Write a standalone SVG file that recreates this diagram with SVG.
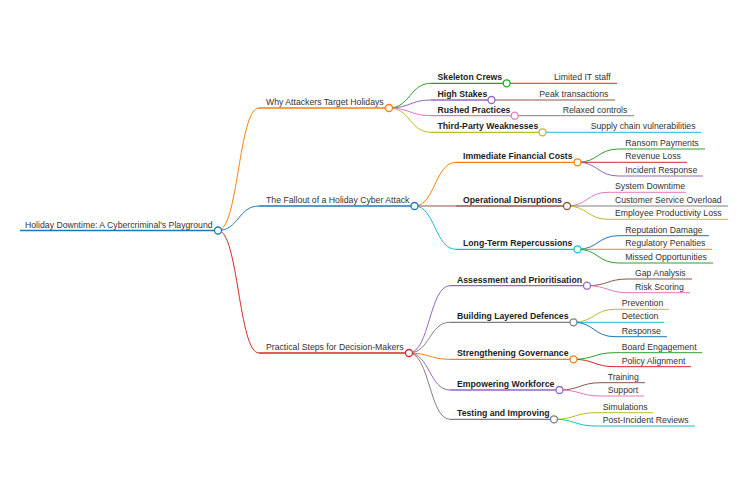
<svg xmlns="http://www.w3.org/2000/svg" width="740" height="491" viewBox="0 0 740 491">
<style>
text{font-family:"Liberation Sans",Arial,sans-serif;font-size:8.7px;fill:#333}
.b{font-weight:bold;fill:#222}
.l{fill:none;stroke-width:1}
.l0{fill:none;stroke-width:1.5}
.l1{fill:none;stroke-width:1.3}
.c{fill:#fff;stroke-width:1.3}
.k{fill:none;stroke-width:1}
</style>
<rect width="740" height="491" fill="#fff"/>
<g id="connectors">
<path class="k" stroke="#ff7f0e" stroke-width="1.4" d="M218,230.5 C238.5,230.5 238.5,108 259,108"/>
<path class="k" stroke="#1f77b4" stroke-width="1.4" d="M218,230.5 C238.5,230.5 238.5,206 259,206"/>
<path class="k" stroke="#d62728" stroke-width="1.4" d="M218,230.5 C238.5,230.5 238.5,353 259,353"/>
<path class="k" stroke="#2ca02c" d="M389,108 C410,108 410,83.3 431,83.3"/>
<path class="k" stroke="#9467bd" d="M389,108 C410,108 410,100 431,100"/>
<path class="k" stroke="#e377c2" d="M389,108 C410,108 410,115.7 431,115.7"/>
<path class="k" stroke="#bcbd22" d="M389,108 C410,108 410,132.3 431,132.3"/>
<path class="k" stroke="#d62728" d="M506.7,83.3 H547.5"/>
<path class="k" stroke="#8c564b" d="M491.5,100 H532.5"/>
<path class="k" stroke="#7f7f7f" d="M514.7,115.7 H556"/>
<path class="k" stroke="#17becf" d="M542.5,132.3 H584"/>
<path class="k" stroke="#ff7f0e" d="M414.5,206 C435,206 435,162.3 456,162.3"/>
<path class="k" stroke="#8c564b" d="M414.5,206 H456"/>
<path class="k" stroke="#17becf" d="M414.5,206 C435,206 435,249.3 456,249.3"/>
<path class="k" stroke="#2ca02c" d="M577.5,162.3 C598,162.3 598,149 618.5,149"/>
<path class="k" stroke="#d62728" d="M577.5,162.3 H618.5"/>
<path class="k" stroke="#9467bd" d="M577.5,162.3 C598,162.3 598,176 618.5,176"/>
<path class="k" stroke="#e377c2" d="M567,206 C587.5,206 587.5,192.3 608,192.3"/>
<path class="k" stroke="#7f7f7f" d="M567,206 H608"/>
<path class="k" stroke="#bcbd22" d="M567,206 C587.5,206 587.5,219.3 608,219.3"/>
<path class="k" stroke="#1f77b4" d="M577.5,249.3 C598,249.3 598,235.7 618.5,235.7"/>
<path class="k" stroke="#ff7f0e" d="M577.5,249.3 H618.5"/>
<path class="k" stroke="#2ca02c" d="M577.5,249.3 C598,249.3 598,263 618.5,263"/>
<path class="k" stroke="#9467bd" d="M409,353 C429.5,353 429.5,285.7 450,285.7"/>
<path class="k" stroke="#7f7f7f" d="M409,353 C429.5,353 429.5,322.3 450,322.3"/>
<path class="k" stroke="#ff7f0e" d="M409,353 C429.5,353 429.5,359.3 450,359.3"/>
<path class="k" stroke="#9467bd" d="M409,353 C429.5,353 429.5,390 450,390"/>
<path class="k" stroke="#7f7f7f" d="M409,353 C429.5,353 429.5,419.3 450,419.3"/>
<path class="k" stroke="#8c564b" d="M587,285.7 C607.5,285.7 607.5,279 628,279"/>
<path class="k" stroke="#e377c2" d="M587,285.7 C607.5,285.7 607.5,292.7 628,292.7"/>
<path class="k" stroke="#bcbd22" d="M573.5,322.3 C594,322.3 594,309.3 615,309.3"/>
<path class="k" stroke="#17becf" d="M573.5,322.3 H615"/>
<path class="k" stroke="#1f77b4" d="M573.5,322.3 C594,322.3 594,336.7 615,336.7"/>
<path class="k" stroke="#2ca02c" d="M573.5,359.3 C594,359.3 594,352.7 615,352.7"/>
<path class="k" stroke="#d62728" d="M573.5,359.3 C594,359.3 594,366.7 615,366.7"/>
<path class="k" stroke="#8c564b" d="M559.5,390 C580,390 580,382.7 601,382.7"/>
<path class="k" stroke="#e377c2" d="M559.5,390 C580,390 580,396 601,396"/>
<path class="k" stroke="#bcbd22" d="M554,419.3 C575,419.3 575,412.7 596,412.7"/>
<path class="k" stroke="#17becf" d="M554,419.3 C575,419.3 575,426 596,426"/>
</g>
<g id="root"><path class="l0" stroke="#1f77b4" d="M20,230.5 H218"/><text x="25" y="227.5">Holiday Downtime: A Cybercriminal's Playground</text><circle class="c" stroke="#1f77b4" cx="218" cy="230.5" r="3.5"/></g>
<g id="why"><path class="l0" stroke="#ff7f0e" d="M259,108 H389"/><text x="266" y="105">Why Attackers Target Holidays</text><circle class="c" stroke="#ff7f0e" cx="389" cy="108" r="3.5"/></g>
<g id="fallout"><path class="l0" stroke="#1f77b4" d="M259,206 H414.5"/><text x="266" y="203">The Fallout of a Holiday Cyber Attack</text><circle class="c" stroke="#1f77b4" cx="414.5" cy="206" r="3.5"/></g>
<g id="practical"><path class="l0" stroke="#d62728" d="M259,353 H409"/><text x="266" y="350">Practical Steps for Decision-Makers</text><circle class="c" stroke="#d62728" cx="409" cy="353" r="3.5"/></g>
<g id="skeleton"><path class="l1" stroke="#2ca02c" d="M431,83.3 H506.7"/><text class="b" x="437.5" y="80.3">Skeleton Crews</text><circle class="c" stroke="#2ca02c" cx="506.7" cy="83.3" r="3.5"/></g>
<g id="highstakes"><path class="l1" stroke="#9467bd" d="M431,100 H491.5"/><text class="b" x="437.5" y="97">High Stakes</text><circle class="c" stroke="#9467bd" cx="491.5" cy="100" r="3.5"/></g>
<g id="rushed"><path class="l1" stroke="#e377c2" d="M431,115.7 H514.7"/><text class="b" x="437.5" y="112.7">Rushed Practices</text><circle class="c" stroke="#e377c2" cx="514.7" cy="115.7" r="3.5"/></g>
<g id="thirdparty"><path class="l1" stroke="#bcbd22" d="M431,132.3 H542.5"/><text class="b" x="437.5" y="129.3">Third-Party Weaknesses</text><circle class="c" stroke="#bcbd22" cx="542.5" cy="132.3" r="3.5"/></g>
<g id="limited"><path class="l" stroke="#d62728" d="M547.5,83.3 H617"/><text x="554" y="80.3">Limited IT staff</text></g>
<g id="peak"><path class="l" stroke="#8c564b" d="M532.5,100 H615"/><text x="539.3" y="97">Peak transactions</text></g>
<g id="relaxed"><path class="l" stroke="#7f7f7f" d="M556,115.7 H634"/><text x="562.7" y="112.7">Relaxed controls</text></g>
<g id="supply"><path class="l" stroke="#17becf" d="M584,132.3 H701"/><text x="590.7" y="129.3">Supply chain vulnerabilities</text></g>
<g id="immediate"><path class="l1" stroke="#ff7f0e" d="M456,162.3 H577.5"/><text class="b" x="463" y="159.3">Immediate Financial Costs</text><circle class="c" stroke="#ff7f0e" cx="577.5" cy="162.3" r="3.5"/></g>
<g id="operational"><path class="l1" stroke="#8c564b" d="M456,206 H567"/><text class="b" x="463" y="203">Operational Disruptions</text><circle class="c" stroke="#8c564b" cx="567" cy="206" r="3.5"/></g>
<g id="longterm"><path class="l1" stroke="#17becf" d="M456,249.3 H577.5"/><text class="b" x="463" y="246.3">Long-Term Repercussions</text><circle class="c" stroke="#17becf" cx="577.5" cy="249.3" r="3.5"/></g>
<g id="ransom"><path class="l" stroke="#2ca02c" d="M618.5,149 H705"/><text x="625.3" y="146">Ransom Payments</text></g>
<g id="revenue"><path class="l" stroke="#d62728" d="M618.5,162.3 H687"/><text x="625.3" y="159.3">Revenue Loss</text></g>
<g id="incident"><path class="l" stroke="#9467bd" d="M618.5,176 H703"/><text x="625.3" y="173">Incident Response</text></g>
<g id="downtime"><path class="l" stroke="#e377c2" d="M608,192.3 H686"/><text x="615" y="189.3">System Downtime</text></g>
<g id="customer"><path class="l" stroke="#7f7f7f" d="M608,206 H728"/><text x="615" y="203">Customer Service Overload</text></g>
<g id="employee"><path class="l" stroke="#bcbd22" d="M608,219.3 H728"/><text x="615" y="216.3">Employee Productivity Loss</text></g>
<g id="reputation"><path class="l" stroke="#1f77b4" d="M618.5,235.7 H709"/><text x="625.3" y="232.7">Reputation Damage</text></g>
<g id="regulatory"><path class="l" stroke="#ff7f0e" d="M618.5,249.3 H712"/><text x="625.3" y="246.3">Regulatory Penalties</text></g>
<g id="missed"><path class="l" stroke="#2ca02c" d="M618.5,263 H713"/><text x="625.3" y="260">Missed Opportunities</text></g>
<g id="assessment"><path class="l1" stroke="#9467bd" d="M450,285.7 H587"/><text class="b" x="457" y="282.7">Assessment and Prioritisation</text><circle class="c" stroke="#9467bd" cx="587" cy="285.7" r="3.5"/></g>
<g id="layered"><path class="l1" stroke="#7f7f7f" d="M450,322.3 H573.5"/><text class="b" x="457" y="319.3">Building Layered Defences</text><circle class="c" stroke="#7f7f7f" cx="573.5" cy="322.3" r="3.5"/></g>
<g id="governance"><path class="l1" stroke="#ff7f0e" d="M450,359.3 H573.5"/><text class="b" x="457" y="356.3">Strengthening Governance</text><circle class="c" stroke="#ff7f0e" cx="573.5" cy="359.3" r="3.5"/></g>
<g id="workforce"><path class="l1" stroke="#9467bd" d="M450,390 H559.5"/><text class="b" x="457" y="387">Empowering Workforce</text><circle class="c" stroke="#9467bd" cx="559.5" cy="390" r="3.5"/></g>
<g id="testing"><path class="l1" stroke="#7f7f7f" d="M450,419.3 H554"/><text class="b" x="457" y="416.3">Testing and Improving</text><circle class="c" stroke="#7f7f7f" cx="554" cy="419.3" r="3.5"/></g>
<g id="gap"><path class="l" stroke="#8c564b" d="M628,279 H692"/><text x="635" y="276">Gap Analysis</text></g>
<g id="risk"><path class="l" stroke="#e377c2" d="M628,292.7 H690"/><text x="635" y="289.7">Risk Scoring</text></g>
<g id="prevention"><path class="l" stroke="#bcbd22" d="M615,309.3 H669"/><text x="621.7" y="306.3">Prevention</text></g>
<g id="detection"><path class="l" stroke="#17becf" d="M615,322.3 H664"/><text x="621.7" y="319.3">Detection</text></g>
<g id="response"><path class="l" stroke="#1f77b4" d="M615,336.7 H667"/><text x="621.7" y="333.7">Response</text></g>
<g id="board"><path class="l" stroke="#2ca02c" d="M615,352.7 H702"/><text x="621.7" y="349.7">Board Engagement</text></g>
<g id="policy"><path class="l" stroke="#d62728" d="M615,366.7 H691"/><text x="621.7" y="363.7">Policy Alignment</text></g>
<g id="training"><path class="l" stroke="#8c564b" d="M601,382.7 H645"/><text x="607.7" y="379.7">Training</text></g>
<g id="support"><path class="l" stroke="#e377c2" d="M601,396 H644"/><text x="607.7" y="393">Support</text></g>
<g id="simulations"><path class="l" stroke="#bcbd22" d="M596,412.7 H653"/><text x="602.7" y="409.7">Simulations</text></g>
<g id="postincident"><path class="l" stroke="#17becf" d="M596,426 H695"/><text x="602.7" y="423">Post-Incident Reviews</text></g>
</svg>
